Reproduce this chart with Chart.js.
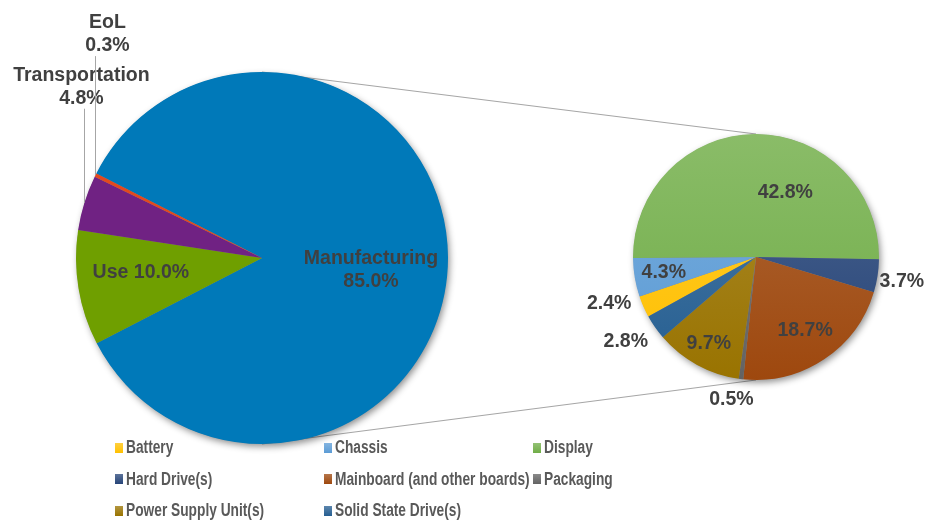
<!DOCTYPE html>
<html>
<head>
<meta charset="utf-8">
<title>Life cycle share</title>
<script src="https://cdn.jsdelivr.net/npm/chart.js@4.4.1/dist/chart.umd.min.js"></script>
<style>
    html, body { margin: 0; padding: 0; background: #fff; }
    #wrap { position: relative; width: 933px; height: 521px; overflow: hidden; }
    #wrap canvas { position: absolute; left: 0; top: 0; }
    #legend {
        position: absolute; left: 115px; top: 432px;
        display: grid; grid-template-columns: 209px 209px 209px; grid-auto-rows: 31.5px;
    }
    .item { display: flex; align-items: center; white-space: nowrap; }
    .swatch { width: 8px; height: 10px; margin-right: 3px; flex: none; }
    .txt {
        display: inline-block; color: #595959;
        font: bold 17.5px "Liberation Sans", Arial, sans-serif;
        transform: scaleX(0.785); transform-origin: left center;
    }
</style>
</head>
<body>
<div id="wrap">
    <canvas id="mainPie" width="933" height="521"></canvas>
    <canvas id="detailPie" width="933" height="521"></canvas>
    <div id="legend"></div>
</div>
<script>
// left pie: life cycle phases (% of total)
const mainCategories = ['Manufacturing', 'Use', 'Transportation', 'EoL'];
const mainShares = [85.0, 10.0, 4.8, 0.3];

// right pie: breakdown of manufacturing (% of total)
const detailCategories = [
    'Battery', 'Chassis', 'Display', 'Hard Drive(s)',
    'Mainboard (and other boards)', 'Packaging', 'Power Supply Unit(s)', 'Solid State Drive(s)'
];
const detailShares = [2.4, 4.3, 42.8, 3.7, 18.7, 0.5, 9.7, 2.8];

(function() {
    'use strict';

    const mainColors = ['#0079B9', '#6F9F00', '#702283', '#E2491E'];
    const detailColors = ['#FFC000', '#5B9BD5', '#70AD47', '#264478', '#9E480E', '#636363', '#997300', '#255E91'];

    const LABEL_FONT = 'bold 19.5px "Liberation Sans", Arial, sans-serif';
    const LABEL_COLOR = '#404040';
    const LINE_COLOR = '#A6A6A6';

    // where each label sits: fraction of radius along the slice middle, plus a nudge
    const mainLabelSpots = [
        { f: 0.586, dx: 0, dy: 12, stack: true },
        { f: 0.66, dx: 0, dy: -5, stack: false },
        { f: 1, dx: -3, dy: -116, stack: true, leader: true },
        { f: 1, dx: 12, dy: -141, stack: true, leader: true }
    ];
    const detailLabelSpots = [
        { f: 1.26, dx: -5, dy: -16 },
        { f: 0.76, dx: 0, dy: 0 },
        { f: 0.52, dx: 29, dy: 0 },
        { f: 1.2, dx: 0, dy: 2 },
        { f: 0.72, dx: 0, dy: 0 },
        { f: 1.17, dx: -7, dy: 0 },
        { f: 0.80, dx: 0, dy: 0 },
        { f: 1.26, dx: -3, dy: -4 }
    ];

    function mix(hex, amount) {
        const n = parseInt(hex.slice(1), 16);
        const ch = [(n >> 16) & 255, (n >> 8) & 255, n & 255]
            .map(c => Math.round(c + (255 - c) * amount));
        return `rgb(${ch[0]}, ${ch[1]}, ${ch[2]})`;
    }

    function pct(v) {
        return v.toFixed(1) + '%';
    }

    function slicePoint(arc, spot) {
        const p = arc.getProps(['x', 'y', 'startAngle', 'endAngle', 'outerRadius'], true);
        const mid = (p.startAngle + p.endAngle) / 2;
        return {
            ex: p.x + Math.cos(mid) * p.outerRadius,
            ey: p.y + Math.sin(mid) * p.outerRadius,
            x: p.x + Math.cos(mid) * p.outerRadius * spot.f + spot.dx,
            y: p.y + Math.sin(mid) * p.outerRadius * spot.f + spot.dy
        };
    }

    const shadowPlugin = {
        id: 'pieShadow',
        beforeDatasetsDraw(chart) {
            const arc = chart.getDatasetMeta(0).data[0];
            if (!arc) return;
            const ctx = chart.ctx;
            ctx.save();
            ctx.shadowColor = 'rgba(0, 0, 0, 0.45)';
            ctx.shadowBlur = 7;
            ctx.shadowOffsetX = 2;
            ctx.shadowOffsetY = 3;
            ctx.beginPath();
            ctx.arc(arc.x, arc.y, arc.outerRadius - 0.5, 0, Math.PI * 2);
            ctx.fillStyle = '#888';
            ctx.fill();
            ctx.restore();
        }
    };

    function labelPlugin(spots, textFor) {
        return {
            id: 'sliceLabels',
            afterDatasetsDraw(chart) {
                const ctx = chart.ctx;
                const arcs = chart.getDatasetMeta(0).data;
                ctx.save();
                ctx.font = LABEL_FONT;
                ctx.fillStyle = LABEL_COLOR;
                ctx.textAlign = 'center';
                ctx.textBaseline = 'middle';
                arcs.forEach((arc, i) => {
                    const spot = spots[i];
                    const pt = slicePoint(arc, spot);
                    const lines = textFor(i, spot);
                    if (spot.leader) {
                        ctx.strokeStyle = LINE_COLOR;
                        ctx.lineWidth = 1;
                        ctx.beginPath();
                        ctx.moveTo(Math.round(pt.ex) + 0.5, pt.ey);
                        ctx.lineTo(Math.round(pt.ex) + 0.5, pt.y + 22);
                        ctx.stroke();
                    }
                    const lh = 23;
                    const top = pt.y - (lines.length - 1) * lh / 2;
                    lines.forEach((t, k) => ctx.fillText(t, pt.x, top + k * lh));
                });
                ctx.restore();
            }
        };
    }

    function gradientFill(context) {
        const base = detailColors[context.dataIndex];
        const area = context.chart.chartArea;
        if (!area) return base;
        const g = context.chart.ctx.createLinearGradient(0, area.top, 0, area.bottom);
        g.addColorStop(0, mix(base, 0.18));
        g.addColorStop(1, base);
        return g;
    }

    const baseOptions = {
        responsive: false,
        animation: false,
        events: [],
        plugins: { legend: { display: false }, tooltip: { enabled: false } }
    };

    const detailChart = new Chart(document.getElementById('detailPie'), {
        type: 'pie',
        data: {
            labels: detailCategories,
            datasets: [{ data: detailShares, backgroundColor: gradientFill, borderWidth: 0 }]
        },
        options: Object.assign({}, baseOptions, {
            rotation: 241.1,
            layout: { padding: { left: 633, top: 134, right: 54, bottom: 141 } }
        }),
        plugins: [shadowPlugin, labelPlugin(detailLabelSpots, i => [pct(detailShares[i])])]
    });

    // gray lines tying the top and bottom of both pies
    const connectorPlugin = {
        id: 'connectors',
        beforeDatasetsDraw(chart) {
            const a = chart.getDatasetMeta(0).data[0];
            const b = detailChart.getDatasetMeta(0).data[0];
            if (!a || !b) return;
            const ctx = chart.ctx;
            ctx.save();
            ctx.strokeStyle = LINE_COLOR;
            ctx.lineWidth = 1.2;
            ctx.beginPath();
            ctx.moveTo(a.x, a.y - a.outerRadius);
            ctx.lineTo(b.x, b.y - b.outerRadius);
            ctx.moveTo(a.x, a.y + a.outerRadius);
            ctx.lineTo(b.x, b.y + b.outerRadius);
            ctx.stroke();
            ctx.restore();
        }
    };

    new Chart(document.getElementById('mainPie'), {
        type: 'pie',
        data: {
            labels: mainCategories,
            datasets: [{ data: mainShares, backgroundColor: mainColors, borderWidth: 0 }]
        },
        options: Object.assign({}, baseOptions, {
            rotation: 297,
            layout: { padding: { left: 76, top: 72, right: 485, bottom: 77 } }
        }),
        plugins: [connectorPlugin, shadowPlugin, labelPlugin(mainLabelSpots, (i, spot) => {
            const name = mainCategories[i];
            const value = pct(mainShares[i]);
            return spot.stack ? [name, value] : [name + ' ' + value];
        })]
    });

    // legend for the breakdown pie, three fixed columns
    const legend = document.getElementById('legend');
    detailCategories.forEach((name, i) => {
        const item = document.createElement('div');
        item.className = 'item';
        const swatch = document.createElement('span');
        swatch.className = 'swatch';
        swatch.style.background = `linear-gradient(to bottom, ${mix(detailColors[i], 0.25)}, ${detailColors[i]})`;
        const txt = document.createElement('span');
        txt.className = 'txt';
        txt.textContent = name;
        item.appendChild(swatch);
        item.appendChild(txt);
        legend.appendChild(item);
    });
})();
</script>
</body>
</html>
